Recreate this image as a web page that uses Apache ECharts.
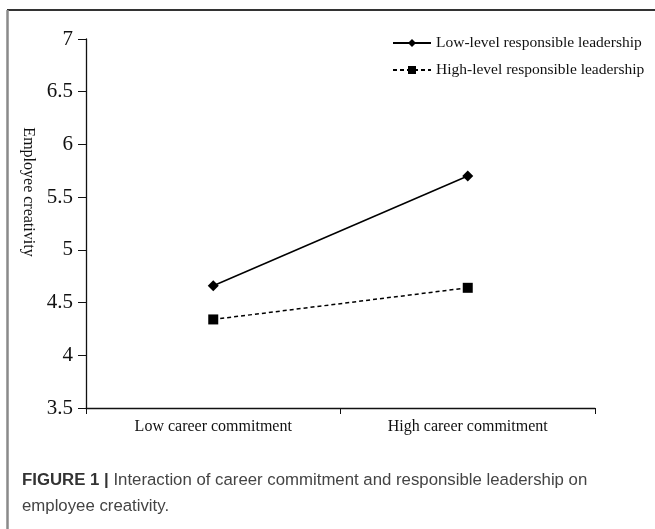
<!DOCTYPE html>
<html>
<head>
<meta charset="utf-8">
<script src="https://cdn.jsdelivr.net/npm/echarts@6/dist/echarts.min.js"></script>
<style>
  html, body { margin: 0; padding: 0; background: #fff; }
  #main { width: 655px; height: 529px; }
</style>
</head>
<body>
<div id="main"></div>
<script>
var categories = ["Low career commitment", "High career commitment"];
var lowLeadership = [4.66, 5.7];
var highLeadership = [4.34, 4.64];
var yTicks = { min: 3.5, max: 7, interval: 0.5 };

var myChart = echarts.init(document.getElementById("main"));
var serif = "Liberation Serif";
var option = {
  backgroundColor: "#fff",
  animation: false,
  grid: {
    left: 86,
    right: 60,
    top: 39,
    bottom: 121
  },
  legend: {
    orient: "vertical",
    left: 392,
    top: 35,
    padding: 0,
    itemWidth: 38,
    itemHeight: 10,
    itemGap: 11,
    textStyle: { fontFamily: serif, fontSize: 15.5, color: "#111" },
    data: [
      { name: "Low-level responsible leadership" },
      { name: "High-level responsible leadership" }
    ]
  },
  xAxis: {
    type: "category",
    boundaryGap: true,
    data: categories,
    axisLine: { lineStyle: { color: "#111", width: 1.3 } },
    axisTick: { show: true, length: 6, lineStyle: { color: "#111" } },
    axisLabel: { fontFamily: serif, fontSize: 16, color: "#111", margin: 11 }
  },
  yAxis: {
    type: "value",
    min: yTicks.min,
    max: yTicks.max,
    interval: yTicks.interval,
    splitLine: { show: false },
    axisLine: { show: true, lineStyle: { color: "#111", width: 1.3 } },
    axisTick: { show: true, length: 8, lineStyle: { color: "#111" } },
    axisLabel: { fontFamily: serif, fontSize: 21, color: "#111", margin: 13 }
  },
  graphic: [
    {
      type: "line",
      shape: { x1: 7, y1: 10, x2: 655, y2: 10 },
      style: { stroke: "#333", lineWidth: 2 }
    },
    {
      type: "line",
      shape: { x1: 7.5, y1: 10, x2: 7.5, y2: 529 },
      style: { stroke: "#8a8a8a", lineWidth: 2.5 }
    },
    {
      type: "text",
      x: 28,
      y: 192,
      rotation: -Math.PI / 2,
      style: {
        text: "Employee creativity",
        fontFamily: serif,
        fontSize: 16,
        fill: "#111",
        align: "center",
        verticalAlign: "middle"
      }
    },
    {
      type: "text",
      left: 22,
      top: 467,
      style: {
        text: "{b|FIGURE 1 |} Interaction of career commitment and responsible leadership on\nemployee creativity.",
        fontFamily: "Liberation Sans",
        fontSize: 16.8,
        lineHeight: 26,
        fill: "#444",
        rich: {
          b: { fontWeight: "bold", fontFamily: "Liberation Sans", fontSize: 16.8, fill: "#333" }
        }
      }
    }
  ],
  series: [
    {
      name: "Low-level responsible leadership",
      type: "line",
      data: lowLeadership,
      symbol: "diamond",
      symbolSize: 11,
      itemStyle: { color: "#000" },
      lineStyle: { color: "#000", width: 1.5, type: "solid" }
    },
    {
      name: "High-level responsible leadership",
      type: "line",
      data: highLeadership,
      symbol: "rect",
      symbolSize: 10,
      itemStyle: { color: "#000" },
      lineStyle: { color: "#000", width: 1.5, type: [4, 3] }
    }
  ]
};
myChart.setOption(option);
</script>
</body>
</html>
